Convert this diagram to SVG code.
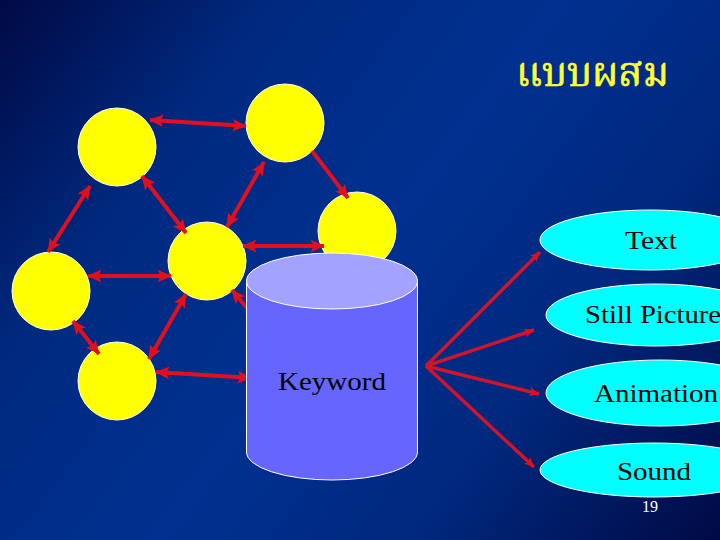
<svg xmlns="http://www.w3.org/2000/svg" width="720" height="540" viewBox="0 0 720 540">
<style>
.n{fill:#ffff00;stroke:#ffffff;stroke-width:1}
.c{fill:none;stroke:#e0101f;stroke-width:4}
.d{marker-end:url(#h);marker-start:url(#h)}
.s{marker-end:url(#h)}
.o{fill:none;stroke:#d0142a;stroke-width:3.5;marker-end:url(#k)}
.e{fill:#00ffff;stroke:#ffffff;stroke-width:1}
.t{font-family:"Liberation Serif","Times New Roman",serif;font-size:25px;fill:#000;text-anchor:middle}
</style>
<defs>
<linearGradient id="bg" gradientUnits="userSpaceOnUse" x1="0" y1="0" x2="720" y2="540">
<stop offset="0" stop-color="#000a45"/><stop offset=".25" stop-color="#002a80"/><stop offset=".5" stop-color="#003090"/><stop offset=".72" stop-color="#00297f"/><stop offset="1" stop-color="#000a45"/>
</linearGradient>
<marker id="h" viewBox="0 0 10 10" refX="9.500" refY="5" markerUnits="userSpaceOnUse" markerWidth="14" markerHeight="14" orient="auto-start-reverse">
<path d="M0 0.500L10 5L0 9.500L2 5Z" fill="#e0101f"/>
</marker>
<marker id="k" viewBox="0 0 10 10" refX="9.500" refY="5" markerUnits="userSpaceOnUse" markerWidth="10" markerHeight="10" orient="auto">
<path d="M0 0.500L10 5L0 9.500L2 5Z" fill="#e0101f"/>
</marker>
</defs>
<rect width="720" height="540" fill="url(#bg)"/>
<text x="592.500" y="86" font-family="'Noto Serif Thai','Noto Sans Thai Looped','Garuda','Loma','Norasi','DejaVu Sans',sans-serif" font-size="41" fill="#ffff33" stroke="#ffff33" stroke-width="0.600" text-anchor="middle" textLength="153" lengthAdjust="spacingAndGlyphs">แบบผสม</text>
<g id="n1"><circle class="n" cx="117" cy="147" r="39"/></g>
<g id="n2"><circle class="n" cx="285" cy="123" r="39"/></g>
<g id="n3"><circle class="n" cx="357" cy="231" r="39"/></g>
<g id="n4"><circle class="n" cx="207" cy="261" r="39"/></g>
<g id="n5"><circle class="n" cx="51" cy="291" r="39"/></g>
<g id="n6"><circle class="n" cx="117" cy="381" r="39"/></g>
<g id="connectors">
<path class="c d" d="M150 120L246 126"/>
<path class="c d" d="M90 186L48 252"/>
<path class="c d" d="M142 176L186 233"/>
<path class="c d" d="M264 162L227 227"/>
<path class="c s" d="M312 151L348 198"/>
<path class="c d" d="M243 246L324 246"/>
<path class="c d" d="M88 276L171 276"/>
<path class="c d" d="M73 321L99 354"/>
<path class="c d" d="M186 294L149 359"/>
<path class="c d" d="M156 372L251 378"/>
<path class="c" style="marker-start:url(#h)" d="M232 290L252 314"/>
<path class="o" d="M426 366L540 252"/>
<path class="o" d="M426 366L534 330"/>
<path class="o" d="M426 366L539 394"/>
<path class="o" d="M426 366L534 467"/>
</g>
<g id="cyl">
<path d="M246.500 281V452A85.500 28 0 0 0 417.500 452V281Z" fill="#6666ff" stroke="#fff"/>
<ellipse cx="332" cy="281" rx="85.500" ry="28" fill="#a3a3ff" stroke="#fff"/>
<text class="t" x="332" y="390" textLength="108" lengthAdjust="spacingAndGlyphs">Keyword</text>
</g>
<g id="e1"><ellipse class="e" cx="650" cy="240" rx="110" ry="30"/><text class="t" x="651" y="249" textLength="52" lengthAdjust="spacingAndGlyphs">Text</text></g>
<g id="e2"><ellipse class="e" cx="656" cy="315" rx="110" ry="31"/><text class="t" x="653" y="323" textLength="136" lengthAdjust="spacingAndGlyphs">Still Picture</text></g>
<g id="e3"><ellipse class="e" cx="660" cy="393" rx="114" ry="33"/><text class="t" x="656" y="402" textLength="124" lengthAdjust="spacingAndGlyphs">Animation</text></g>
<g id="e4"><ellipse class="e" cx="654" cy="470" rx="114" ry="27"/><text class="t" x="654" y="480" textLength="74" lengthAdjust="spacingAndGlyphs">Sound</text></g>
<text x="650" y="512" font-family="'Liberation Serif',serif" font-size="16" fill="#fff" text-anchor="middle">19</text>
</svg>
